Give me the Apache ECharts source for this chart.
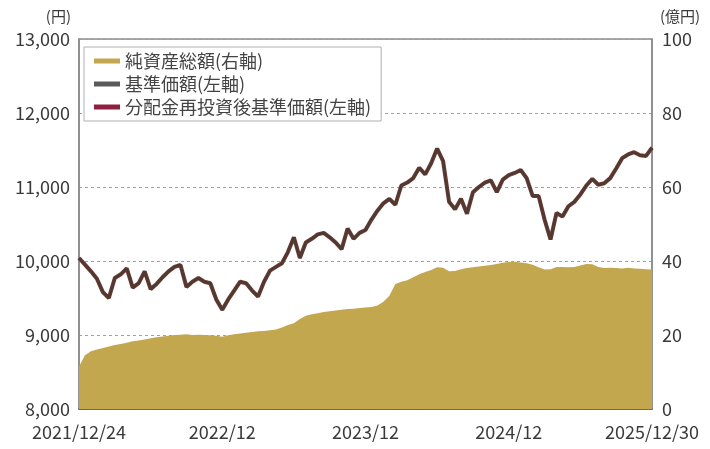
<!DOCTYPE html>
<html><head><meta charset="utf-8">
<script src="https://cdn.jsdelivr.net/npm/echarts@6/dist/echarts.min.js"></script>
<style>html,body{margin:0;padding:0;background:#fff}#c{width:710px;height:449px}</style>
</head><body><div id="c"></div>
<script>
// semi-monthly observations from 2021/12/24 to 2025/12/30
const startLabel = '2021/12/24';
const endLabel = '2025/12/30';
const tickLabels = {0:'2021/12/24',24:'2022/12',48:'2023/12',72:'2024/12',96:'2025/12/30'};
const basePrice = [10040,9950,9860,9760,9580,9500,9770,9820,9900,9640,9700,9860,9620,9690,9780,9860,9920,9946,9650,9720,9770,9720,9700,9480,9340,9480,9600,9720,9700,9600,9520,9720,9870,9920,9970,10120,10320,10040,10250,10300,10360,10380,10320,10250,10160,10440,10300,10380,10420,10560,10680,10780,10840,10760,11020,11060,11120,11260,11170,11320,11520,11350,10800,10700,10840,10640,10930,11000,11060,11090,10930,11100,11160,11190,11230,11120,10880,10880,10560,10290,10650,10600,10740,10800,10900,11020,11110,11030,11050,11120,11250,11390,11440,11470,11430,11420,11530];
const reinvestedPrice = basePrice.slice();
const netAssets = [11.5,14.5,15.6,16.1,16.5,16.9,17.3,17.6,17.9,18.3,18.5,18.8,19.1,19.4,19.6,19.8,20.0,20.1,20.2,20.0,20.1,20.0,19.9,19.8,19.5,19.9,20.2,20.4,20.6,20.8,21.0,21.1,21.3,21.5,22.0,22.7,23.2,24.3,25.2,25.6,25.9,26.2,26.4,26.6,26.8,27.0,27.1,27.3,27.4,27.6,28.0,29.0,30.6,33.8,34.4,34.8,35.6,36.4,37.0,37.6,38.3,38.2,37.2,37.3,37.8,38.1,38.3,38.5,38.7,38.9,39.2,39.5,39.7,39.8,39.6,39.4,39.0,38.3,37.7,37.8,38.4,38.4,38.3,38.4,38.8,39.2,39.1,38.4,38.1,38.2,38.1,38.0,38.2,38.0,37.9,37.8,37.7];

// category dates: start, then mid-month and month-end for 48 months
const categories = [startLabel];
for (let m = 1; m <= 48; m++) {
  const y = 2021 + Math.floor((11 + m) / 12);
  const mo = ((11 + m) % 12) + 1;
  const mm = String(mo).padStart(2,'0');
  categories.push(y + '/' + mm + '/15');
  categories.push(m === 48 ? endLabel : (y + '/' + mm + '/末'));
}

const font = '"Noto Sans CJK JP", "Noto Sans", sans-serif';
const labelColor = '#3a3a3a';
const chart = echarts.init(document.getElementById('c'));
chart.setOption({
  animation: false,
  textStyle: {fontFamily: font},
  grid: {left: 79, right: 58, top: 39, bottom: 40, show: true, borderColor: '#8a8a8a', borderWidth: 1.5, backgroundColor: 'transparent'},
  legend: {
    orient: 'vertical', left: 84, top: 47,
    backgroundColor: '#fff', borderColor: '#b0b0b0', borderWidth: 1,
    padding: [5, 10, 5, 10], itemGap: 5, itemWidth: 26, itemHeight: 5,
    textStyle: {fontFamily: font, fontSize: 18, color: '#444'},
    data: [
      {name: '純資産総額(右軸)', icon: 'rect'},
      {name: '基準価額(左軸)', icon: 'rect'},
      {name: '分配金再投資後基準価額(左軸)', icon: 'rect'}
    ]
  },
  xAxis: {
    type: 'category', data: categories, boundaryGap: false,
    axisLine: {lineStyle: {color: '#555', width: 1.5}},
    axisTick: {inside: true, length: 5, lineStyle: {color: '#555'}, interval: (i) => i === 24 || i === 48 || i === 72},
    axisLabel: {
      interval: (i) => tickLabels[i] !== undefined,
      formatter: (v, i) => tickLabels[i] || '',
      fontSize: 18, color: labelColor, margin: 14, fontFamily: font,
      alignMinLabel: 'center', alignMaxLabel: 'center'
    },
    splitLine: {show: false}
  },
  yAxis: [
    {
      type: 'value', min: 8000, max: 13000, interval: 1000, position: 'left',
      name: '(円)', nameLocation: 'end', nameGap: 15,
      nameTextStyle: {fontSize: 15, color: labelColor, align: 'right', padding: [0, 8, 0, 0]},
      axisLine: {show: true, lineStyle: {color: '#8a8a8a', width: 1.5}},
      axisTick: {show: false},
      axisLabel: {fontSize: 18, color: labelColor, margin: 9, formatter: (v) => v.toLocaleString('en-US')},
      splitLine: {show: true, lineStyle: {color: '#a0a0a0', type: [3, 3], width: 1}}
    },
    {
      type: 'value', min: 0, max: 100, interval: 20, position: 'right',
      name: '(億円)', nameLocation: 'end', nameGap: 15,
      nameTextStyle: {fontSize: 15, color: labelColor, align: 'left', padding: [0, 0, 0, 8]},
      axisLine: {show: true, lineStyle: {color: '#8a8a8a', width: 1.5}},
      axisTick: {show: false},
      axisLabel: {fontSize: 18, color: labelColor, margin: 10},
      splitLine: {show: false}
    }
  ],
  series: [
    {
      name: '純資産総額(右軸)', type: 'line', yAxisIndex: 1, data: netAssets,
      showSymbol: false, symbol: 'none', color: '#c3a74f',
      lineStyle: {width: 0}, areaStyle: {color: '#c3a74f', opacity: 1}, z: 1
    },
    {
      name: '分配金再投資後基準価額(左軸)', type: 'line', yAxisIndex: 0, data: reinvestedPrice,
      showSymbol: false, symbol: 'none', color: '#8e1f3f',
      lineStyle: {width: 4, color: '#6b3a35'}, z: 3
    },
    {
      name: '基準価額(左軸)', type: 'line', yAxisIndex: 0, data: basePrice,
      showSymbol: false, symbol: 'none', color: '#5a5a5a',
      lineStyle: {width: 2.2, color: '#4e3a30'}, z: 4
    }
  ]
});
</script></body></html>
